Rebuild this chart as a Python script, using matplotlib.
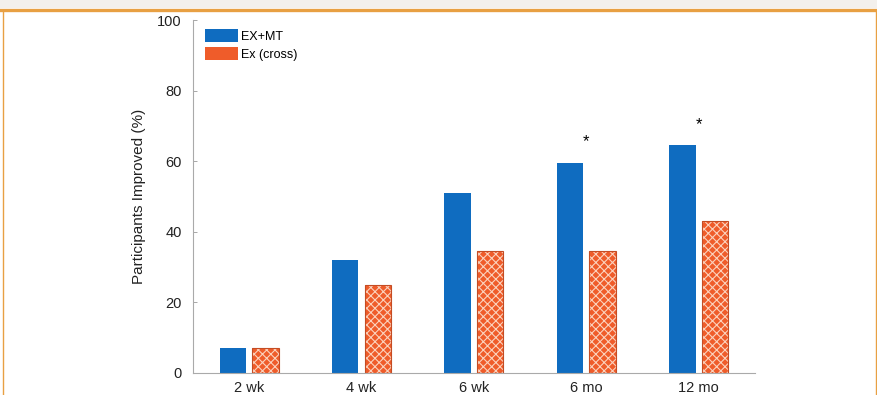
import numpy as np
import matplotlib.pyplot as plt
from matplotlib.patches import Patch, Rectangle
from matplotlib.lines import Line2D

plt.rcParams['font.family'] = ['Liberation Sans', 'DejaVu Sans']
plt.rcParams['hatch.linewidth'] = 0.8

### --- data --- ###
timepoints = ['2 wk', '4 wk', '6 wk', '6 mo', '12 mo']
ex_mt = [7, 32, 51, 59.5, 64.5]
ex_cross = [7, 25, 34.5, 34.5, 43]
signif = [False, False, False, True, True]

blue = '#0f6cc0'
orange = '#ef5c2a'

fig = plt.figure(figsize=(8.78, 3.95), dpi=100)
ax = fig.add_axes([0.2198, 0.0557, 0.8599 - 0.2198, 0.949 - 0.0557])

x = np.arange(1, len(timepoints) + 1)
w = 0.235
off = 0.145
ax.bar(x - off, ex_mt, w, color=blue, linewidth=0)
# hatched orange: light cross hatch over orange, then thin darker outline
ax.bar(x + off, ex_cross, w, color=orange, edgecolor='#fbd2bd', hatch='xxxx', linewidth=0)
ax.bar(x + off, ex_cross, w, fill=False, edgecolor='#c44c24', linewidth=0.8)

for xi, v, s in zip(x, ex_mt, signif):
    if s:
        ax.text(xi, v + 6, '*', ha='center', va='center', fontsize=12)

ax.set_xlim(0.5, 5.5)
ax.set_ylim(0, 100)
ax.set_xticks(x)
ax.set_xticklabels(timepoints)
ax.set_yticks([0, 20, 40, 60, 80, 100])
ax.tick_params(axis='x', length=0, pad=6, labelsize=10.5, colors='#222222')
ax.tick_params(axis='y', direction='in', length=3, width=0.6, color='#999999', labelsize=10.5,
               labelcolor='#222222', pad=8)
ax.set_ylabel('Participants Improved (%)', fontsize=11, color='#222222', labelpad=8)
for side in ['top', 'right']:
    ax.spines[side].set_visible(False)
for side in ['left', 'bottom']:
    ax.spines[side].set_color('#aaaaaa')
    ax.spines[side].set_linewidth(0.8)

handles = [Patch(facecolor=blue, edgecolor='none'), Patch(facecolor=orange, edgecolor='none')]
ax.legend(handles, ['EX+MT', 'Ex (cross)'], loc='upper left', bbox_to_anchor=(0.005, 1.0),
          frameon=False, fontsize=9, handlelength=2.7, handleheight=1.2, handletextpad=0.25,
          labelspacing=0.35, borderaxespad=0.3)

# page frame: grey band and orange rule on top, thin orange edges at the sides
fig.patches.append(Rectangle((0, 1 - 8 / 395), 1, 8 / 395, transform=fig.transFigure,
                             facecolor='#f3f0ec', edgecolor='none', zorder=-1))
fig.lines.append(Line2D([0, 1], [1 - 9.5 / 395] * 2, transform=fig.transFigure,
                        color='#e8a043', linewidth=2.4))
fig.lines.append(Line2D([2.5 / 878] * 2, [0, 1 - 9.5 / 395], transform=fig.transFigure,
                        color='#e8a043', linewidth=1.0))
fig.lines.append(Line2D([1 - 1.5 / 878] * 2, [0, 1 - 9.5 / 395], transform=fig.transFigure,
                        color='#e8a043', linewidth=1.0))

fig.savefig('out.png', dpi=100)
